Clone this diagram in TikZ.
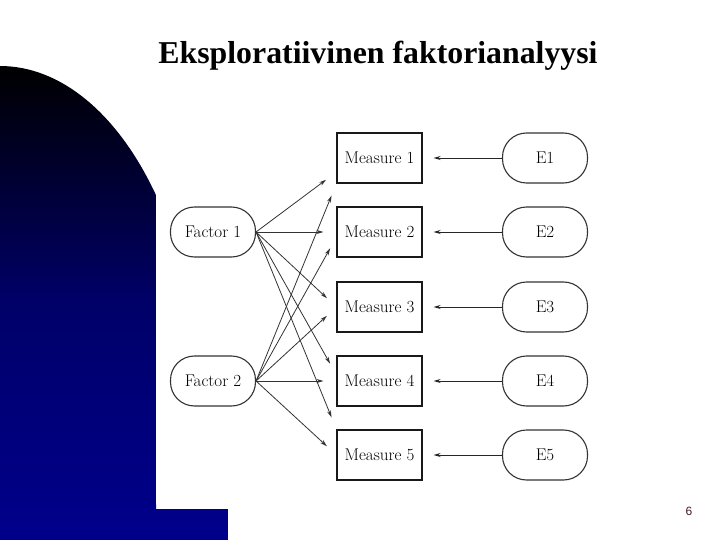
\documentclass[tikz,border=0pt]{standalone}
\usepackage{fontspec}
\newfontfamily\titlefont{Liberation Serif}
\newfontfamily\numfont{Liberation Sans}
\usetikzlibrary{arrows.meta}
\definecolor{deepblue}{RGB}{0,0,140}
\definecolor{numcol}{RGB}{70,25,35}
\begin{document}
\begin{tikzpicture}[x=1pt,y=-1pt,
  pill/.style={draw=black!80, line width=1.1pt, rounded corners=24pt, inner sep=0pt,
    minimum width=85pt, minimum height=50pt, font=\fontsize{17}{20}\selectfont},
  meas/.style={draw=black!90, line width=1.1pt, inner sep=0pt,
    minimum width=85pt, minimum height=50pt, font=\fontsize{17}{20}\selectfont},
  conn/.style={draw=black!80, line width=0.8pt, shorten >=13pt, -{Stealth[length=7pt,width=4pt]}},
  econn/.style={draw=black!85, line width=0.9pt, shorten >=11pt, -{Stealth[length=7pt,width=4pt]}},
]
\useasboundingbox (0,0) rectangle (720,540);
\fill[white] (0,0) rectangle (720,540);
% blue background shape
\shade[top color=black, bottom color=deepblue, middle color=deepblue!75!black]
  (0,66) arc[start angle=-90, end angle=-38.8, x radius=200, y radius=345]
  -- (156,509) -- (228,509) -- (228,540) -- (0,540) -- cycle;

\node[anchor=base, font=\titlefont\bfseries\fontsize{31.8}{36}\selectfont] (title) at (378,64) {Eksploratiivinen faktorianalyysi};

\node[pill] (F1) at (213,232) {Factor 1};
\node[pill] (F2) at (213,381) {Factor 2};

\foreach \i/\y in {1/158,2/232,3/307,4/381,5/455}{
  \node[meas] (M\i) at (379.5,\y) {Measure \i};
  \node[pill] (E\i) at (545,\y) {E\i};
  \draw[econn] (E\i.west) -- (M\i.east);
}

\draw[conn] (F1.east) -- ([yshift=-14pt]M1.west);
\draw[conn] (F1.east) -- (M2.west);
\draw[conn] (F1.east) -- (M3.west);
\draw[conn] (F1.east) -- ([yshift=6pt]M4.west);
\draw[conn] (F1.east) -- (M5.north west);
\draw[conn] (F2.east) -- (M1.south west);
\draw[conn] (F2.east) -- ([yshift=-5pt]M2.west);
\draw[conn] (F2.east) -- (M3.west);
\draw[conn] (F2.east) -- (M4.west);
\draw[conn] (F2.east) -- (M5.west);

\node[font=\numfont\fontsize{12}{14}\selectfont, text=numcol] (page) at (689,511) {6};
\end{tikzpicture}
\end{document}
